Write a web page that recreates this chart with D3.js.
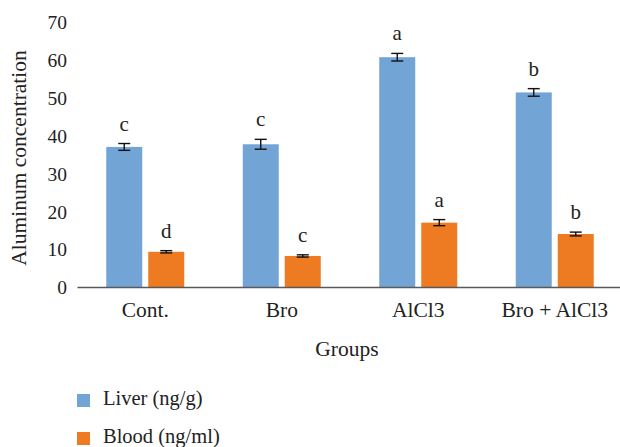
<!DOCTYPE html>
<html><head><meta charset="utf-8">
<script src="https://cdn.jsdelivr.net/npm/d3@7"></script>
<style>body{margin:0;background:#fff}svg{display:block}svg text{font-family:"Liberation Serif","Times New Roman",Times,serif !important;fill:#222}</style>
</head><body>
<script>
const categories = ["Cont.", "Bro", "AlCl3", "Bro + AlCl3"];
const seriesNames = ["Liver (ng/g)", "Blood (ng/ml)"];
const liver = [37.0, 37.7, 60.7, 51.4];
const liverErr = [0.9, 1.3, 1.0, 1.0];
const blood = [9.3, 8.2, 17.0, 14.0];
const bloodErr = [0.3, 0.3, 0.8, 0.5];
const liverLetters = ["c", "c", "a", "b"];
const bloodLetters = ["d", "c", "a", "b"];
const yTicks = [0, 10, 20, 30, 40, 50, 60, 70];
const colors = ["#72a5d6", "#ee7b22"];

const W = 620, H = 447;
const svg = d3.select("body").append("svg").attr("width", W).attr("height", H);
const y = d3.scaleLinear().domain([0, 70]).range([287, 22]);
const x0 = d3.scaleBand().domain(categories).range([77, 623]).paddingInner(0).paddingOuter(0);
const x1 = d3.scaleBand().domain([0, 1]).range([0, 78]).paddingInner(0.143).paddingOuter(0);
const gOff = (x0.bandwidth() - 78) / 2;

const series = [
  {vals: liver, err: liverErr, letters: liverLetters},
  {vals: blood, err: bloodErr, letters: bloodLetters}
];

// y tick labels
const yAxis = d3.axisLeft(y).tickValues(yTicks).tickSize(0).tickPadding(0);
const ya = svg.append("g").attr("transform", "translate(67,0)").call(yAxis);
ya.select(".domain").remove();
ya.selectAll("text").attr("font-size", 19.5).attr("fill", "#222").attr("dy", "0.35em");

series.forEach((s, si) => {
  const g = svg.append("g");
  categories.forEach((c, i) => {
    const bx = x0(c) + gOff + x1(si);
    const bw = x1.bandwidth();
    const cx = bx + bw / 2;
    g.append("rect").attr("x", bx).attr("y", y(s.vals[i])).attr("width", bw)
      .attr("height", y(0) - y(s.vals[i])).attr("fill", colors[si]);
    const top = y(s.vals[i] + s.err[i]), bot = y(s.vals[i] - s.err[i]);
    g.append("line").attr("x1", cx).attr("x2", cx).attr("y1", top).attr("y2", bot).attr("stroke", "#111").attr("stroke-width", 1.4);
    g.append("line").attr("x1", cx - 6).attr("x2", cx + 6).attr("y1", top).attr("y2", top).attr("stroke", "#111").attr("stroke-width", 1.4);
    g.append("line").attr("x1", cx - 6).attr("x2", cx + 6).attr("y1", bot).attr("y2", bot).attr("stroke", "#111").attr("stroke-width", 1.4);
    g.append("text").attr("x", cx).attr("y", top - 13).attr("text-anchor", "middle")
      .attr("font-size", 21).text(s.letters[i]);
  });
});

// x axis
const xAxis = d3.axisBottom(x0).tickSize(0).tickPadding(0);
const xa = svg.append("g").attr("transform", `translate(0,${y(0)})`).call(xAxis);
xa.select(".domain").attr("stroke", "#595959").attr("stroke-width", 1.6);
xa.selectAll("text").attr("font-size", 21.5).attr("fill", "#222").attr("dy", null).attr("y", 30);

svg.append("text").attr("x", 347).attr("y", 356).attr("text-anchor", "middle").attr("font-size", 21.5).text("Groups");
svg.append("text").attr("transform", "translate(26,158) rotate(-90)").attr("text-anchor", "middle").attr("font-size", 21.5).text("Aluminum concentration");

// legend
seriesNames.forEach((n, i) => {
  const ly = 400 + i * 38;
  svg.append("rect").attr("x", 77).attr("y", ly - 6).attr("width", 13).attr("height", 13).attr("fill", colors[i]);
  svg.append("text").attr("x", 103).attr("y", ly + 5).attr("font-size", 20.5).text(n);
});
</script>
</body></html>
